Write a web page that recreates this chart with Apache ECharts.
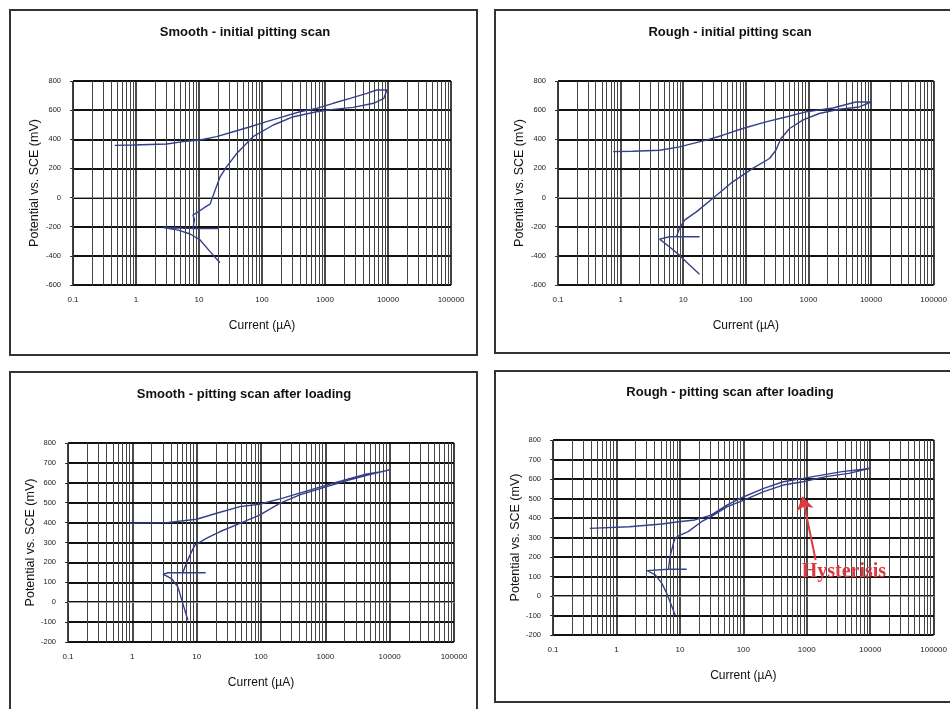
<!DOCTYPE html>
<html>
<head>
<meta charset="utf-8">
<title>Pitting scans</title>
<script src="https://cdn.jsdelivr.net/npm/echarts@6/dist/echarts.min.js"></script>
<style>
  html, body { margin: 0; padding: 0; background: #fff; }
  #main { width: 950px; height: 709px; }
</style>
</head>
<body>
<div id="main"></div>
<script>
// current in uA, potential in mV, points in scan order
var smoothInitI = [21.5, 15, 10.4, 7.2, 4.7, 2.7, 5, 8, 20, 8, 8.5, 8, 9.8, 13, 15, 18, 21.5, 27.5, 40, 72, 151, 316, 735, 1350, 2800, 5900, 8600, 9600, 9000, 6600, 4600, 2500, 1350, 735, 400, 218, 118, 65, 35, 19, 10.4, 5.6, 3.07, 0.9, 0.46];
var smoothInitE = [-447, -371, -291, -250, -223, -205, -210, -213, -213, -213, -150, -120, -97, -60, -45, 50, 140, 212, 304, 418, 498, 555, 589, 605, 619, 647, 681, 738, 750, 738, 715, 681, 647, 612, 589, 555, 521, 486, 452, 418, 395, 384, 368, 361, 358];

var roughInitI = [18.2, 12.6, 8.7, 6.0, 4.2, 6.0, 18.2, 7.8, 8.7, 10.5, 16.2, 29.5, 61.7, 129, 239, 302, 363, 500, 810, 1490, 3100, 6500, 10000, 10000, 5700, 2460, 910, 435, 210, 89, 43, 23.3, 8.7, 4.2, 1.57, 0.76];
var roughInitE = [-527, -463, -395, -338, -285, -269, -269, -269, -212, -155, -98, -6, 108, 200, 268, 325, 405, 474, 531, 577, 606, 622, 656, 668, 656, 615, 588, 553, 519, 474, 428, 394, 348, 325, 318, 315];

var smoothLoadI = [7.3, 6.1, 5.1, 4.05, 3.0, 3.6, 6.1, 13.8, 6.1, 6.9, 8.3, 9.4, 14.1, 22.8, 47, 95, 195, 400, 1050, 2400, 4400, 10000, 7100, 4400, 1320, 725, 218, 95, 47, 20.4, 10, 3.4, 0.91];
var smoothLoadE = [-91, -7, 77, 119, 141, 148, 148, 148, 148, 195, 253, 287, 321, 354, 396, 438, 497, 539, 581, 615, 638, 665, 655, 645, 598, 573, 523, 492, 480, 447, 417, 400, 397];

var roughLoadI = [8.4, 7.5, 6.2, 5.2, 4.1, 3.05, 6.6, 12.8, 6.6, 7.0, 7.9, 8.4, 9.5, 13.5, 21.9, 31, 56, 102, 210, 425, 870, 2000, 4600, 10000, 7600, 3600, 1800, 870, 425, 210, 102, 56, 31, 17.2, 9.5, 5.2, 1.58, 0.38];
var roughLoadE = [-97, -55, 14, 65, 108, 130, 137, 137, 137, 202, 270, 296, 308, 330, 381, 407, 458, 492, 535, 569, 586, 612, 629, 655, 650, 638, 621, 603, 586, 552, 509, 467, 415, 390, 381, 369, 355, 347];

var titles = ['Smooth - initial pitting scan', 'Rough - initial pitting scan', 'Smooth - pitting scan after loading', 'Rough - pitting scan after loading'];
var yRanges = [[-600, 800, 200], [-600, 800, 200], [-200, 800, 100], [-200, 800, 100]];
var decades = [0.1, 1, 10, 100, 1000, 10000];
var minorSteps = [2, 3, 4, 5, 6, 7, 8, 9];

// hysteresis note: arrow from/to and text spot, in data units of the last panel
var hystArrow = [[1380, 185], [857, 509]];
var hystLabel = [3850, 124];

var curves = [
  [smoothInitI, smoothInitE],
  [roughInitI, roughInitE],
  [smoothLoadI, smoothLoadE],
  [roughLoadI, roughLoadE]
];

// panel boxes (frame + plot area)
var frames = [[10, 10, 467, 345], [495, 10, 470, 343], [10, 372, 467, 345], [495, 371, 470, 331]];
var plots = [[73, 81, 378, 204], [558, 81, 376, 204], [68, 443, 386, 199], [553, 440, 387, 195]];
var titlePos = [[245, 26], [730, 26], [244, 388], [730, 386]];
var yNameGap = [32, 32, 28, 29];

var minorVals = [];
decades.forEach(function (d) {
  minorSteps.forEach(function (m) {
    minorVals.push(+(d * m).toPrecision(6));
  });
});

var lineColor = '#34408a';
var chart = echarts.init(document.getElementById('main'), null, { renderer: 'canvas' });

var option = {
  backgroundColor: '#fff',
  animation: false,
  title: [],
  grid: [],
  xAxis: [],
  yAxis: [],
  series: [],
  graphic: []
};

frames.forEach(function (f) {
  option.graphic.push({
    type: 'rect',
    shape: { x: f[0], y: f[1], width: f[2], height: f[3] },
    style: { fill: 'none', stroke: '#333', lineWidth: 2 },
    z: 0
  });
});

for (var i = 0; i < 4; i++) {
  var p = plots[i];
  option.title.push({
    text: titles[i],
    left: titlePos[i][0],
    top: titlePos[i][1],
    textAlign: 'center',
    padding: 0,
    textStyle: { fontFamily: 'Liberation Sans', fontSize: 13, fontWeight: 'bold', color: '#111' }
  });
  option.grid.push({
    left: p[0], top: p[1], width: p[2], height: p[3],
    show: true, borderColor: '#aaa', borderWidth: 1, backgroundColor: '#fff'
  });
  option.xAxis.push({
    type: 'log',
    logBase: 10,
    gridIndex: i,
    min: 0.1,
    max: 100000,
    splitNumber: 6,
    name: 'Current (µA)',
    nameLocation: 'middle',
    nameGap: 35,
    nameTextStyle: { fontFamily: 'Liberation Sans', fontSize: 12, color: '#111' },
    axisLine: { show: true, lineStyle: { color: '#999', width: 1 } },
    axisTick: { show: false },
    axisLabel: {
      fontFamily: 'Liberation Sans', fontSize: 8, color: '#222', margin: 11,
      formatter: function (v) { return v < 1 ? v.toFixed(1) : String(Math.round(v)); }
    },
    splitLine: { show: true, lineStyle: { color: '#111', width: 1.5 } }
  });
  option.yAxis.push({
    type: 'value',
    gridIndex: i,
    min: yRanges[i][0],
    max: yRanges[i][1],
    interval: yRanges[i][2],
    name: 'Potential vs. SCE (mV)',
    nameLocation: 'middle',
    nameRotate: 90,
    nameGap: yNameGap[i],
    nameTextStyle: { fontFamily: 'Liberation Sans', fontSize: 12.5, color: '#111' },
    axisLine: { show: true, lineStyle: { color: '#333', width: 1 } },
    axisTick: { show: true, length: 3, lineStyle: { color: '#333' } },
    axisLabel: { fontFamily: 'Liberation Sans', fontSize: 7.5, color: '#222', margin: 12 },
    splitLine: { show: true, lineStyle: { color: '#111', width: 2 } }
  });
  // minor vertical grid lines of the log axis
  option.series.push({
    type: 'line',
    xAxisIndex: i,
    yAxisIndex: i,
    data: [],
    silent: true,
    z: 1,
    markLine: {
      silent: true,
      symbol: ['none', 'none'],
      label: { show: false },
      lineStyle: { color: '#444', width: 1, type: 'solid' },
      emphasis: { disabled: true },
      data: minorVals.map(function (v) { return { xAxis: v }; })
    }
  });
  var pts = curves[i][0].map(function (c, k) { return [c, curves[i][1][k]]; });
  var s = {
    type: 'line',
    xAxisIndex: i,
    yAxisIndex: i,
    data: pts,
    showSymbol: false,
    smooth: false,
    z: 5,
    lineStyle: { color: lineColor, width: 1.4 },
    emphasis: { disabled: true }
  };
  if (i === 3) {
    s.markLine = {
      silent: true,
      symbol: ['none', 'arrow'],
      symbolSize: 13,
      label: { show: false },
      lineStyle: { color: '#e0383c', width: 2, type: 'solid' },
      data: [[{ coord: hystArrow[0] }, { coord: hystArrow[1] }]]
    };
    s.markPoint = {
      silent: true,
      symbolSize: 0,
      label: {
        show: true,
        formatter: 'Hysterisis',
        fontFamily: 'Liberation Serif',
        fontSize: 20,
        fontWeight: 'bold',
        color: '#dd3a3e'
      },
      data: [{ coord: hystLabel }]
    };
  }
  option.series.push(s);
}

chart.setOption(option);
</script>
</body>
</html>
